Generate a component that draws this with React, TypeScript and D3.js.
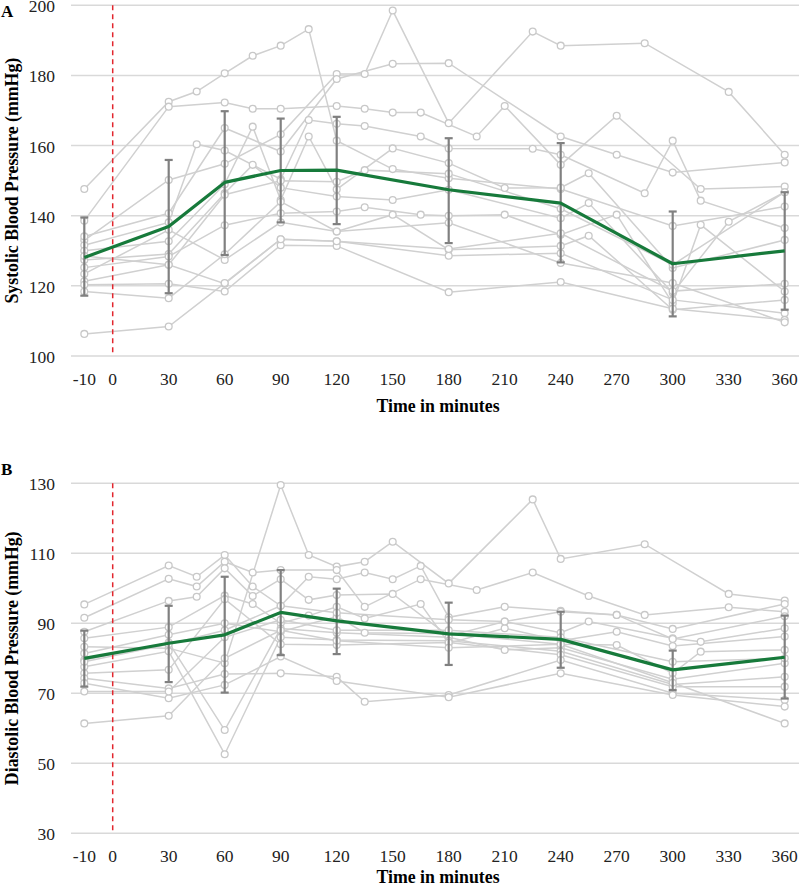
import React from "react";
import * as d3 from "d3";

// ---------- DATA ----------
const TIME_TICKS = [-10, 0, 30, 60, 90, 120, 150, 180, 210, 240, 270, 300, 330, 360];
const MEAN_TIMES = [-10, 30, 60, 90, 120, 180, 240, 300, 360];

const SBP_MEAN = [128.1, 136.9, 149.5, 152.9, 153.0, 147.4, 143.6, 126.3, 130.0];
const SBP_UPPER = [139.5, 155.9, 169.8, 167.7, 168.2, 162.1, 160.7, 141.2, 146.7];
const SBP_LOWER = [117.2, 117.9, 128.8, 138.1, 137.6, 132.2, 126.7, 111.3, 113.2];

const DBP_MEAN = [80.0, 84.3, 86.7, 93.1, 90.7, 87.0, 85.4, 76.7, 80.3];
const DBP_UPPER = [87.9, 95.0, 103.3, 105.2, 99.9, 95.9, 93.3, 82.2, 92.2];
const DBP_LOWER = [71.9, 73.2, 70.2, 80.9, 81.2, 78.1, 77.3, 70.9, 68.5];

const SBP_TICKS = [100, 120, 140, 160, 180, 200];
const DBP_TICKS = [30, 50, 70, 90, 110, 130];

// individual participants: [time, value]
const SBP_SUBJECTS: number[][][] = [
  [[-10, 133], [30, 150.2], [60, 154.8], [90, 163.2], [120, 180.4], [135, 180.4], [150, 198.5], [180, 166.4], [225, 192.5], [240, 188.5], [285, 189.2], [330, 175.3], [360, 157.4]],
  [[-10, 147.6], [30, 172.5], [45, 175.4], [60, 180.6], [75, 185.6], [90, 188.5], [105, 193.2], [120, 161.4], [150, 153.3], [180, 150.7], [240, 147.6], [300, 137.1], [360, 142.6]],
  [[-10, 134.1], [30, 140.7], [60, 165], [90, 158.3], [120, 179], [150, 183.3], [180, 183.5], [240, 162.6], [270, 157.4], [300, 152.3], [360, 155.2]],
  [[-10, 138.6], [30, 171.1], [60, 172.3], [75, 170.5], [90, 170.5], [120, 171.3], [135, 170.5], [150, 169.4], [165, 169.4], [195, 162.6], [210, 171.3], [240, 154.5], [270, 168.5], [315, 147.6], [360, 148.3]],
  [[-10, 131.6], [30, 138.1], [45, 160.4], [60, 158.6], [90, 150.4], [105, 167.3], [120, 166.2], [135, 165.6], [165, 162.6], [180, 159.2], [225, 159.1], [240, 157.4], [285, 146.4], [300, 161.4], [315, 144.3], [360, 136.5]],
  [[-10, 130], [30, 132.7], [60, 149], [75, 165.4], [90, 144.5], [105, 162.6], [120, 147.5], [150, 159.2], [180, 155], [210, 147.9], [240, 148], [255, 152.1], [300, 125.1], [360, 133.1]],
  [[-10, 127.4], [30, 129.1], [60, 146.4], [75, 154.5], [90, 148], [120, 145.5], [150, 144.5], [180, 147.4], [240, 139.3], [255, 143.6], [300, 118], [330, 138.3], [360, 146.7]],
  [[-10, 125.2], [30, 128.4], [60, 137.3], [90, 140.7], [120, 141.2], [135, 142.4], [165, 140.3], [180, 140], [210, 140.3], [240, 134.6], [270, 140.3], [300, 115], [315, 137.4], [360, 118.4]],
  [[-10, 123.4], [30, 136], [60, 127.4], [90, 138.1], [120, 135.5], [150, 140.3], [180, 130.3], [240, 131.4], [255, 134.3], [300, 113.2], [360, 116]],
  [[-10, 121.3], [30, 126], [60, 120.6], [90, 133.3], [120, 132.7], [180, 128.6], [240, 129.3], [300, 116], [360, 112.2]],
  [[-10, 120.3], [30, 120.6], [60, 118.4], [90, 131.6], [120, 131.4], [180, 118.2], [240, 121.1], [300, 113.5], [360, 110.3]],
  [[-10, 118.4], [30, 116.5], [60, 129], [90, 144], [120, 135.5], [180, 138], [240, 126.5], [300, 120.8], [360, 109.6]],
  [[-10, 106.3], [30, 108.4], [60, 120.8], [90, 133.3], [120, 132.7], [180, 130.5], [240, 135], [300, 118.5], [360, 120.6]],
  [[-10, 128.5], [30, 126], [60, 146], [90, 150], [120, 149.7], [135, 153], [180, 152], [240, 142], [300, 126], [360, 146.7]],
];

const DBP_SUBJECTS: number[][][] = [
  [[-10, 83.3], [30, 82.9], [60, 78.6], [90, 129.5], [105, 109.5], [120, 106.2], [135, 107.6], [150, 113.3], [180, 101.4], [225, 125.4], [240, 108.4], [285, 112.6], [330, 98.4], [360, 96.5]],
  [[-10, 95.4], [30, 106.5], [45, 103.3], [60, 109.5], [75, 100.5], [90, 95], [105, 103.3], [120, 102.6], [135, 104.5], [150, 102.6], [165, 106.4], [180, 91.7], [210, 94.7], [240, 93.6], [270, 92.4], [300, 88.4], [360, 95.5]],
  [[-10, 91.6], [30, 102.7], [45, 100.5], [60, 107.6], [75, 104.5], [90, 105.2], [120, 105.2], [135, 94.7], [165, 102.6], [195, 99.5], [225, 104.5], [255, 97.8], [285, 92.4], [330, 94.6], [360, 93.3]],
  [[-10, 87.6], [30, 96.4], [45, 97.6], [60, 105.7], [75, 97.8], [90, 102.6], [105, 96.7], [120, 98.1], [150, 98.4], [180, 86.4], [210, 90.5], [240, 87.3], [255, 90.5], [300, 85.7], [315, 84.7], [360, 88.6]],
  [[-10, 85.7], [30, 88.9], [60, 97.9], [75, 95.5], [90, 90], [105, 92.2], [120, 94.7], [135, 91.4], [165, 95.5], [180, 84.3], [210, 88.6], [240, 85], [270, 87.6], [300, 83.5], [360, 86.2]],
  [[-10, 81.4], [30, 86.7], [60, 90], [90, 87.6], [120, 91.9], [135, 87.3], [180, 87], [240, 84], [270, 83.8], [300, 75.7], [315, 81.9], [360, 82.4]],
  [[-10, 79.5], [30, 84.5], [60, 59.5], [90, 88.5], [120, 87.3], [180, 86], [210, 82.4], [240, 83], [300, 74], [360, 78.6]],
  [[-10, 77.6], [30, 82], [60, 52.6], [90, 86], [120, 85.2], [180, 85], [240, 82], [300, 72.5], [360, 74.7]],
  [[-10, 75.7], [30, 76.7], [60, 96.9], [90, 84], [120, 83.8], [180, 84.5], [240, 81], [300, 71.9], [360, 71.9]],
  [[-10, 74.3], [30, 71.4], [60, 75.5], [90, 75.7], [120, 74.7], [135, 67.6], [180, 69.5], [240, 79.5], [300, 70], [360, 68.1]],
  [[-10, 72.9], [30, 68.6], [60, 72.4], [90, 80.5], [120, 73.5], [180, 68.9], [240, 75.7], [300, 69.5], [360, 66.2]],
  [[-10, 70.5], [30, 70.5], [60, 86], [90, 91], [120, 88], [180, 88], [240, 86], [300, 79], [360, 80]],
  [[-10, 61.4], [30, 63.6], [60, 80], [90, 88], [120, 85], [180, 83], [240, 84], [300, 73], [360, 61.4]],
  [[-10, 79], [30, 84], [60, 88], [90, 95], [120, 93], [180, 91], [210, 90.5], [240, 93.3], [270, 92.4], [300, 85.5], [360, 92]],
];

// ---------- LAYOUT ----------
const W = 800;
const H = 888;
const FONT = "'Liberation Serif', 'Times New Roman', serif";

const x = d3.scaleLinear().domain([-10, 0, 360]).range([84.3, 112.7, 784.7]);
const GRID_X0 = 71;
const GRID_X1 = 799;

type PanelProps = {
  letter: string;
  letterY: number;
  yTop: number;
  yBottom: number;
  ticks: number[];
  title: string;
  subjects: number[][][];
  mean: number[];
  upper: number[];
  lower: number[];
  tickY: number;
  xTitleY: number;
};

function Panel(p: PanelProps) {
  const y = d3
    .scaleLinear()
    .domain([p.ticks[0], p.ticks[p.ticks.length - 1]])
    .range([p.yBottom, p.yTop]);
  const line = d3
    .line<number[]>()
    .x((d) => x(d[0]))
    .y((d) => y(d[1]));
  const meanPts = MEAN_TIMES.map((t, i) => [t, p.mean[i]]);
  const midY = (p.yTop + p.yBottom) / 2;
  return (
    <g>
      <text x={1} y={p.letterY} fontFamily={FONT} fontWeight="bold" fontSize={17}>
        {p.letter}
      </text>
      {p.ticks.map((t) => (
        <g key={t}>
          <line x1={GRID_X0} x2={GRID_X1} y1={y(t)} y2={y(t)} stroke="#d9d9d9" strokeWidth={1.5} />
          <text x={55} y={y(t) + 7} textAnchor="end" fontFamily={FONT} fontSize={17.5} fill="#222">
            {t}
          </text>
        </g>
      ))}
      {TIME_TICKS.map((t) => (
        <text key={t} x={x(t)} y={p.tickY} textAnchor="middle" fontFamily={FONT} fontSize={17.5} fill="#222">
          {t}
        </text>
      ))}
      <text x={438} y={p.xTitleY} textAnchor="middle" fontFamily={FONT} fontWeight="bold" fontSize={17.8}>
        Time in minutes
      </text>
      <text
        transform={`translate(18,${midY}) rotate(-90)`}
        textAnchor="middle"
        fontFamily={FONT}
        fontWeight="bold"
        fontSize={17.8}
      >
        {p.title}
      </text>
      {p.subjects.map((s, i) => (
        <path key={i} d={line(s) || ""} fill="none" stroke="#d0d0d0" strokeWidth={1.5} />
      ))}
      {p.subjects.map((s, i) =>
        s.map((d, j) => (
          <circle key={`${i}-${j}`} cx={x(d[0])} cy={y(d[1])} r={3.4} fill="#fff" stroke="#c8c8c8" strokeWidth={1.3} />
        ))
      )}
      <line x1={x(0)} x2={x(0)} y1={p.yTop} y2={p.yBottom} stroke="#e2262e" strokeWidth={1.5} strokeDasharray="5,4" />
      {MEAN_TIMES.map((t, i) => (
        <g key={t} stroke="#808080" strokeWidth={2.2}>
          <line x1={x(t)} x2={x(t)} y1={y(p.upper[i])} y2={y(p.lower[i])} />
          <line x1={x(t) - 4} x2={x(t) + 4} y1={y(p.upper[i])} y2={y(p.upper[i])} />
          <line x1={x(t) - 4} x2={x(t) + 4} y1={y(p.lower[i])} y2={y(p.lower[i])} />
        </g>
      ))}
      <path d={line(meanPts) || ""} fill="none" stroke="#177a3b" strokeWidth={3.2} strokeLinejoin="round" />
    </g>
  );
}

export default function App() {
  return (
    <svg
      width={W}
      height={H}
      style={{ position: "absolute", left: 0, top: 0, background: "#fff", display: "block" }}
    >
      <rect width={W} height={H} fill="#fff" />
      <Panel
        letter="A"
        letterY={17}
        yTop={5.3}
        yBottom={356}
        ticks={SBP_TICKS}
        title="Systolic Blood Pressure (mmHg)"
        subjects={SBP_SUBJECTS}
        mean={SBP_MEAN}
        upper={SBP_UPPER}
        lower={SBP_LOWER}
        tickY={385}
        xTitleY={412}
      />
      <Panel
        letter="B"
        letterY={475}
        yTop={483.3}
        yBottom={833.3}
        ticks={DBP_TICKS}
        title="Diastolic Blood Pressure (mmHg)"
        subjects={DBP_SUBJECTS}
        mean={DBP_MEAN}
        upper={DBP_UPPER}
        lower={DBP_LOWER}
        tickY={862}
        xTitleY={883}
      />
    </svg>
  );
}
